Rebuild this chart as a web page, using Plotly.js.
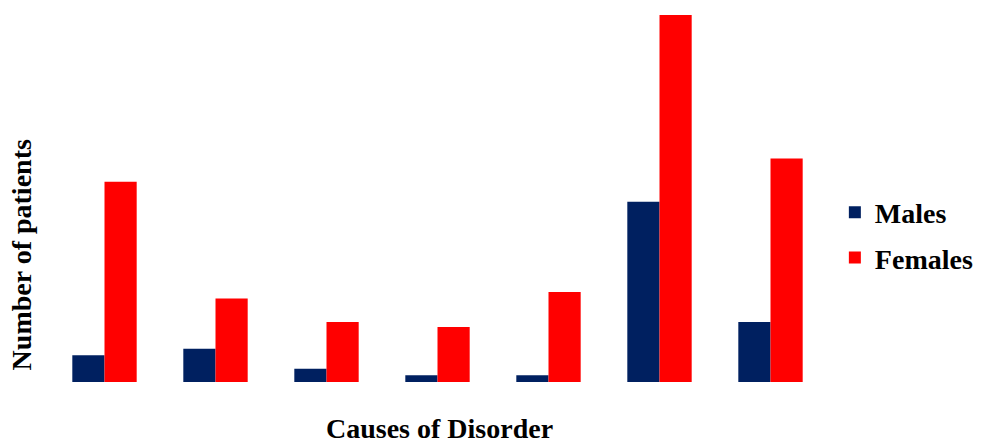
<!DOCTYPE html>
<html>
<head>
<meta charset="utf-8">
<script src="https://cdn.plot.ly/plotly-3.0.1.min.js"></script>
<style>html,body{margin:0;padding:0;background:#fff;}#chart{width:988px;height:447px;}</style>
</head>
<body>
<div id="chart"></div>
<script>
var categories = ["C1", "C2", "C3", "C4", "C5", "C6", "C7"];
var males = [8, 10, 4, 2, 2, 54, 18];
var females = [60, 25, 18, 16.5, 27, 110, 67];
var seriesNames = ["Males", "Females"];

var font = "Liberation Serif, Times New Roman, serif";
var traces = [
  {type: "bar", x: categories, y: males, name: seriesNames[0], legendgroup: "m",
   marker: {color: "#002060"}},
  {type: "bar", x: categories, y: females, name: seriesNames[1], legendgroup: "f",
   marker: {color: "#FF0000"}}
];
var layout = {
  width: 988, height: 447,
  margin: {l: 49, r: 162, t: 15, b: 65},
  paper_bgcolor: "#fff", plot_bgcolor: "#fff",
  barmode: "group", bargap: 0.42, bargroupgap: 0,
  showlegend: true,
  legend: {xref: "container", x: 0.845, xanchor: "left", y: 0.53, yanchor: "top",
           font: {family: font, size: 28, color: "#000", weight: "bold"},
           traceorder: "grouped", tracegroupgap: 6, bgcolor: "rgba(0,0,0,0)"},
  xaxis: {showticklabels: false, showgrid: false, zeroline: false, showline: false, ticks: ""},
  yaxis: {range: [0, 110], showticklabels: false, showgrid: false, zeroline: false, showline: false, ticks: ""},
  annotations: [
    {text: "<b>Causes of Disorder</b>", xref: "paper", yref: "paper", x: 0.503, y: -0.128,
     xanchor: "center", yanchor: "middle", showarrow: false,
     font: {family: font, size: 28, color: "#000"}},
    {text: "<b>Number of patients</b>", xref: "paper", yref: "paper", x: -0.036, y: 0.345,
     xanchor: "center", yanchor: "middle", showarrow: false, textangle: -90,
     font: {family: font, size: 28, color: "#000"}}
  ]
};
Plotly.newPlot("chart", traces, layout, {displayModeBar: false, staticPlot: true});
</script>
</body>
</html>
